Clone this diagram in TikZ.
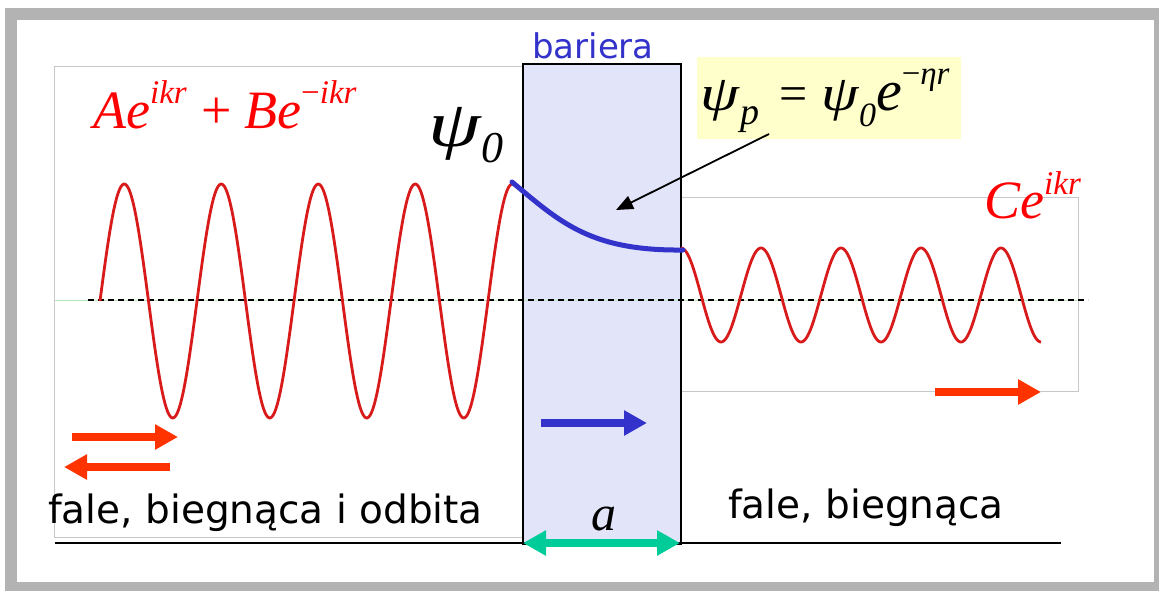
\documentclass[tikz,border=0pt]{standalone}
\usepackage{fontspec}
\usetikzlibrary{arrows.meta}
\newfontfamily\tnr{Liberation Serif}
\newfontfamily\dv{DejaVu Sans}
\definecolor{framegray}{HTML}{B3B3B3}
\definecolor{boxgray}{HTML}{C8C8C8}
\definecolor{barfill}{HTML}{E2E4F9}
\definecolor{wavered}{HTML}{D91A1A}
\definecolor{arrred}{HTML}{FF3300}
\definecolor{blu}{HTML}{3333CC}
\definecolor{grn}{HTML}{00CC99}
\definecolor{ylw}{HTML}{FFFFCC}
\definecolor{lgreen}{HTML}{B8E8B8}
\tikzset{
  fatarrow/.style={line width=8pt,-{Triangle[length=23pt,width=24pt]}},
  fatdbl/.style={line width=8pt,{Triangle[length=23pt,width=24pt]}-{Triangle[length=23pt,width=24pt]}},
  wave/.style={wavered,line width=2.8pt,line join=round},
  lbl/.style={inner sep=0pt,anchor=base west},
  mathlbl/.style={lbl,font=\tnr\itshape},
}
\newcommand{\fsz}[1]{\fontsize{#1}{#1}\selectfont}
\begin{document}
\begin{tikzpicture}[x=1pt,y=-1pt]
\useasboundingbox (0,0) rectangle (1159,590);
\fill[white] (0,0) rectangle (1159,590);
% outer frame
\draw[framegray,line width=12pt] (11,14) rectangle (1160,588);
% gray boxes
\draw[boxgray,line width=1pt] (54,66) rectangle (522,537);
\draw[boxgray,line width=1pt] (680,197) rectangle (1078,391);
% barrier
\node[draw=black,line width=1.5pt,fill=barfill,minimum width=158pt,minimum height=480pt,anchor=north west,inner sep=0pt] (bar) at (522,63) {};
\node[lbl,blu,font=\dv\fsz{34}] (barlbl) at (532,58) {bariera};
% yellow box
\node[fill=ylw,minimum width=264pt,minimum height=82pt,anchor=north west,inner sep=0pt] (ybox) at (697,57) {};
% axis lines
\draw[lgreen,line width=0.8pt] (55,300) -- (1077,300);
\draw[black,line width=1.5pt,dash pattern=on 6pt off 4pt] (88,300) -- (1088,300);
% bottom line
\draw[black,line width=1.5pt] (55,543) -- (1061,543);
% waves
\draw[wave] plot[domain=100:514,samples=300] (\x,{301-117*sin(3.71134*(\x-100))});
\draw[wave] plot[domain=681:1041,samples=300] (\x,{295-47*cos(4.5*(\x-681))});
% decaying wave in barrier
\draw[blu,line width=5pt,line cap=round] (512,182) .. controls (560,222) and (590,251) .. (683,250);
% labels
\node[mathlbl,red,font=\tnr\itshape\fsz{54}] (abe) at (93,128) {Ae\raisebox{0.46em}{\fsz{33}ikr}\hspace{0.28em}{\upshape+}\hspace{0.22em}Be\raisebox{0.46em}{\fsz{33}\upshape−\itshape ikr}};
\node[mathlbl,font=\tnr\itshape\fsz{65}] (psi0) at (428,146) {\scalebox{1.3}[1]{ψ}\hspace{0.02em}\raisebox{-0.26em}{\fsz{44}0}};
\node[mathlbl,font=\tnr\itshape\fsz{50}] (psip) at (700,110) {\scalebox{1.25}[1]{ψ}\raisebox{-0.28em}{\fsz{38}\hspace{0.04em}p}\hspace{0.4em}{\upshape=}\hspace{0.28em}\scalebox{1.2}[1]{ψ}\raisebox{-0.32em}{\fsz{34}0}{\fsz{58}e}\raisebox{0.52em}{\fsz{33}\upshape−\itshape ηr}};
\node[mathlbl,red,font=\tnr\itshape\fsz{54}] (cekr) at (984,218) {Ce\raisebox{0.43em}{\fsz{33}ikr}};
\node[mathlbl,font=\tnr\itshape\fsz{50}] (alab) at (591,530) {a};
\node[lbl,font=\dv\fsz{39}] (t1) at (48,523) {fale, biegnąca i odbita};
\node[lbl,font=\dv\fsz{39}] (t2) at (728,518) {fale, biegnąca};
% arrows
\coordinate (l1a) at (72,437); \coordinate (l1b) at (178,437);
\coordinate (l2a) at (170,467); \coordinate (l2b) at (64,467);
\coordinate (r1a) at (935,392); \coordinate (r1b) at (1041,392);
\coordinate (b1a) at (541,423); \coordinate (b1b) at (647,423);
\coordinate (g1a) at (523,543); \coordinate (g1b) at (680,543);
\coordinate (ka) at (769,134); \coordinate (kb) at (616,210);
\draw[fatarrow,arrred] (l1a) -- (l1b);
\draw[fatarrow,arrred] (l2a) -- (l2b);
\draw[fatarrow,arrred] (r1a) -- (r1b);
\draw[fatarrow,blu] (b1a) -- (b1b);
\draw[fatdbl,grn] (g1a) -- (g1b);
\draw[black,line width=1.8pt,-{Triangle[length=17pt,width=14pt]}] (ka) -- (kb);
\end{tikzpicture}
\end{document}
